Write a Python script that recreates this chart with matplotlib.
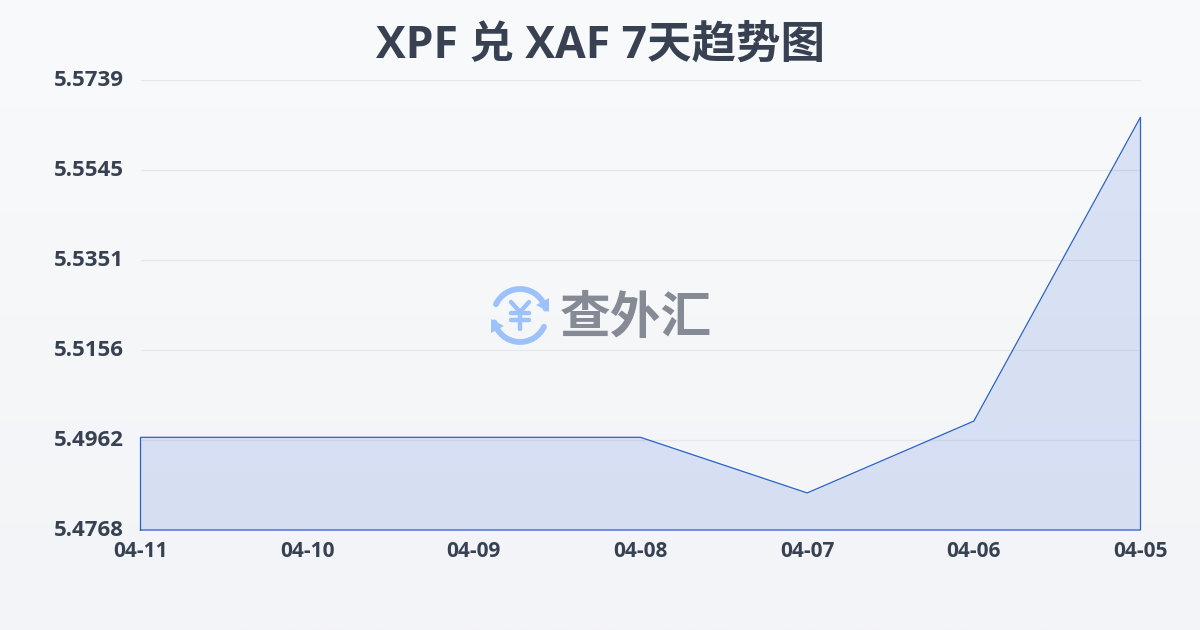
import numpy as np
import matplotlib
matplotlib.use("Agg")
import matplotlib.pyplot as plt
from matplotlib.patches import Arc, Polygon
from matplotlib.transforms import ScaledTranslation

plt.rcParams["font.family"] = ["Open Sans", "Noto Sans CJK SC", "DejaVu Sans"]

dates = ["04-11", "04-10", "04-09", "04-08", "04-07", "04-06", "04-05"]
rates = [5.4968, 5.4968, 5.4968, 5.4968, 5.4848, 5.5003, 5.5659]
y_ticks = [5.4768, 5.4962, 5.5156, 5.5351, 5.5545, 5.5739]
y_tick_labels = ["5.4768", "5.4962", "5.5156", "5.5351", "5.5545", "5.5739"]
title = "XPF 兑 XAF 7天趋势图"

TEXT = "#374151"
LINE = "#2b62c4"
W, H = 1200, 630


def draw_logo(ax):
    blue = "#9dc1fa"
    ax.add_patch(Arc((520, 315.5), 53, 53, theta1=25, theta2=165, color=blue, lw=4.2, capstyle="round"))
    ax.add_patch(Arc((520, 315.5), 53, 53, theta1=205, theta2=345, color=blue, lw=4.2, capstyle="round"))
    ax.add_patch(Polygon([[549, 298], [549, 312], [536, 305]], color=blue, lw=0))
    ax.add_patch(Polygon([[491, 319], [491, 333], [504, 326]], color=blue, lw=0))
    for seg in (
        ([511, 520], [302, 312]), ([529, 520], [302, 312]), ([520, 520], [312, 329]),
        ([511, 529], [313, 313]), ([511, 529], [320, 320]),
    ):
        ax.plot(seg[0], seg[1], color=blue, lw=3.2, solid_capstyle="round")
    ax.text(636, 318, "查外汇", color="#858a94", fontsize=36.5, fontweight="bold",
            family="Noto Sans CJK SC", ha="center", va="center")


fig = plt.figure(figsize=(12, 6.3), dpi=100)

bg = fig.add_axes([0, 0, 1, 1], zorder=0)
bg.imshow(np.linspace(0, 1, 256)[:, None], aspect="auto", extent=[0, 1, 0, 1],
          cmap=matplotlib.colors.LinearSegmentedColormap.from_list("bg", ["#f9fafb", "#f3f4f7"]))
bg.axis("off")

ax = fig.add_axes([140.5 / W, 1 - 530 / H, 1000 / W, 450 / H], zorder=1)
ax.patch.set_alpha(0)
x = np.arange(len(dates))
ax.set_xlim(0, len(dates) - 1)
ax.set_ylim(y_ticks[0], y_ticks[-1])
ax.fill_between(x, rates, y_ticks[0], color="#2f62d9", alpha=0.15, lw=0, zorder=2)
ax.plot(np.r_[x[0], x, x[-1], x[0]], np.r_[y_ticks[0], rates, y_ticks[0], y_ticks[0]],
        color=LINE, lw=0.9, zorder=3, clip_on=False, solid_joinstyle="miter")

ax.set_yticks(y_ticks)
ax.set_yticklabels(y_tick_labels, fontsize=16, fontweight="bold", color=TEXT)
ax.set_xticks(x)
ax.set_xticklabels(dates, fontsize=15, fontweight="bold", color=TEXT)
ax.tick_params(axis="y", length=0, pad=12)
ax.tick_params(axis="x", length=0, pad=8)
shift = ScaledTranslation(0, 2 / fig.dpi, fig.dpi_scale_trans)
for lab in ax.get_yticklabels():
    lab.set_transform(lab.get_transform() + shift)
ax.grid(axis="y", color="#e5e7eb", lw=0.9, zorder=1)
ax.set_axisbelow(True)
for spine in ax.spines.values():
    spine.set_visible(False)

overlay = fig.add_axes([0, 0, 1, 1], zorder=2)
overlay.set_xlim(0, W)
overlay.set_ylim(H, 0)
overlay.axis("off")
draw_logo(overlay)

fig.text(600 / W, 1 - 46 / H, title, ha="center", va="center", fontsize=32,
         fontweight="bold", color=TEXT, zorder=5)

fig.savefig("out.png", dpi=100)
